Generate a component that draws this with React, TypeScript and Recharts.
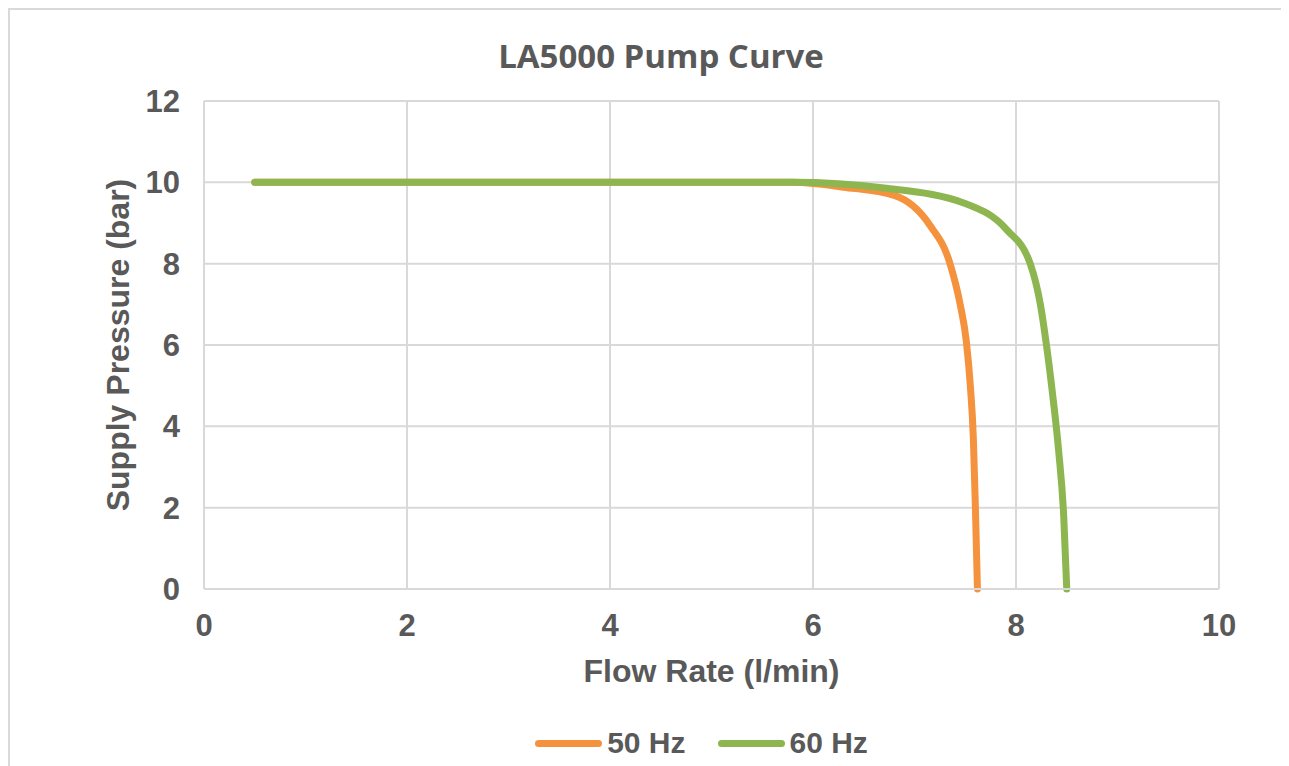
import React from 'react'
import { LineChart, Line, XAxis, YAxis, CartesianGrid, Legend, Label } from 'recharts'

// flow rate (l/min) vs supply pressure (bar)
const flow50 = [0.5, 5.8, 6.3, 6.8, 7.15, 7.35, 7.45, 7.51, 7.55, 7.58, 7.6, 7.62]
const pressure50 = [10, 10, 9.88, 9.68, 8.95, 8.0, 7.0, 6.1, 5.0, 3.7, 2.0, 0]
const flow60 = [0.5, 5.8, 6.7, 7.5, 7.91, 8.14, 8.24, 8.3, 8.36, 8.42, 8.47, 8.5]
const pressure60 = [10, 10, 9.86, 9.48, 8.83, 8.0, 7.0, 6.0, 4.8, 3.4, 1.8, 0]
const xTicks = [0, 2, 4, 6, 8, 10]
const yTicks = [0, 2, 4, 6, 8, 10, 12]

const data50 = flow50.map((x, i) => ({ x, y: pressure50[i] }))
const data60 = flow60.map((x, i) => ({ x, y: pressure60[i] }))

const TEXT = '#595959'
const ORANGE = '#F5923E'
const GREEN = '#8DB650'
const FONT = '"Liberation Sans", Arial, sans-serif'

const series = [
  { name: '50 Hz', color: ORANGE },
  { name: '60 Hz', color: GREEN },
]

function LegendBox() {
  return (
    <div style={{ display: 'flex', justifyContent: 'center', alignItems: 'center', height: 40, paddingLeft: 186 }}>
      {series.map((s) => (
        <div key={s.name} style={{ display: 'flex', alignItems: 'center', marginRight: 32 }}>
          <div style={{ width: 67, height: 7, borderRadius: 4, background: s.color, marginRight: 5 }} />
          <span style={{ fontFamily: FONT, fontWeight: 700, fontSize: 30, color: TEXT }}>{s.name}</span>
        </div>
      ))}
    </div>
  )
}

function YTitle(props: any) {
  const vb = props.viewBox || {}
  const cx = 108
  const cy = vb.y + vb.height / 2
  return (
    <text
      x={cx}
      y={cy}
      transform={`rotate(-90 ${cx} ${cy})`}
      textAnchor="middle"
      dominantBaseline="central"
      fill={TEXT}
      fontFamily={FONT}
      fontWeight={700}
      fontSize={32}
    >
      Supply Pressure (bar)
    </text>
  )
}

export default function App() {
  return (
    <div
      style={{
        position: 'relative',
        width: 1272,
        height: 760,
        border: '2px solid #d9d9d9',
        background: '#fff',
      }}
    >
      <div
        style={{
          position: 'absolute',
          top: 23,
          left: 0,
          width: 1302,
          textAlign: 'center',
          fontFamily: '"Open Sans", sans-serif',
          fontWeight: 700,
          fontSize: 33,
          color: TEXT,
        }}
      >
        LA5000 Pump Curve
      </div>
      <LineChart width={1272} height={760} margin={{ top: 91, right: 63, bottom: 7, left: 20 }}>
        <CartesianGrid stroke="#d9d9d9" strokeWidth={2} />
        <XAxis
          type="number"
          dataKey="x"
          domain={[0, 10]}
          ticks={xTicks}
          height={134}
          tickLine={false}
          tickSize={0}
          tickMargin={25}
          axisLine={{ stroke: '#d9d9d9', strokeWidth: 2 }}
          tick={{ fill: TEXT, fontSize: 31, fontWeight: 700, fontFamily: FONT }}
        >
          <Label
            value="Flow Rate (l/min)"
            position="insideTop"
            offset={70}
            fill={TEXT}
            fontSize={32}
            fontWeight={700}
            fontFamily={FONT}
          />
        </XAxis>
        <YAxis
          type="number"
          domain={[0, 12]}
          ticks={yTicks}
          width={174}
          tickLine={false}
          tickSize={0}
          tickMargin={24}
          axisLine={false}
          tick={{ fill: TEXT, fontSize: 31, fontWeight: 700, fontFamily: FONT }}
        >
          <Label content={YTitle} />
        </YAxis>
        <Legend verticalAlign="bottom" content={() => <LegendBox />} />
        <Line
          data={data50}
          dataKey="y"
          name="50 Hz"
          type="monotone"
          stroke={ORANGE}
          strokeWidth={7}
          dot={false}
          strokeLinecap="round"
          isAnimationActive={false}
        />
        <Line
          data={data60}
          dataKey="y"
          name="60 Hz"
          type="monotone"
          stroke={GREEN}
          strokeWidth={7}
          dot={false}
          strokeLinecap="round"
          isAnimationActive={false}
        />
      </LineChart>
    </div>
  )
}
